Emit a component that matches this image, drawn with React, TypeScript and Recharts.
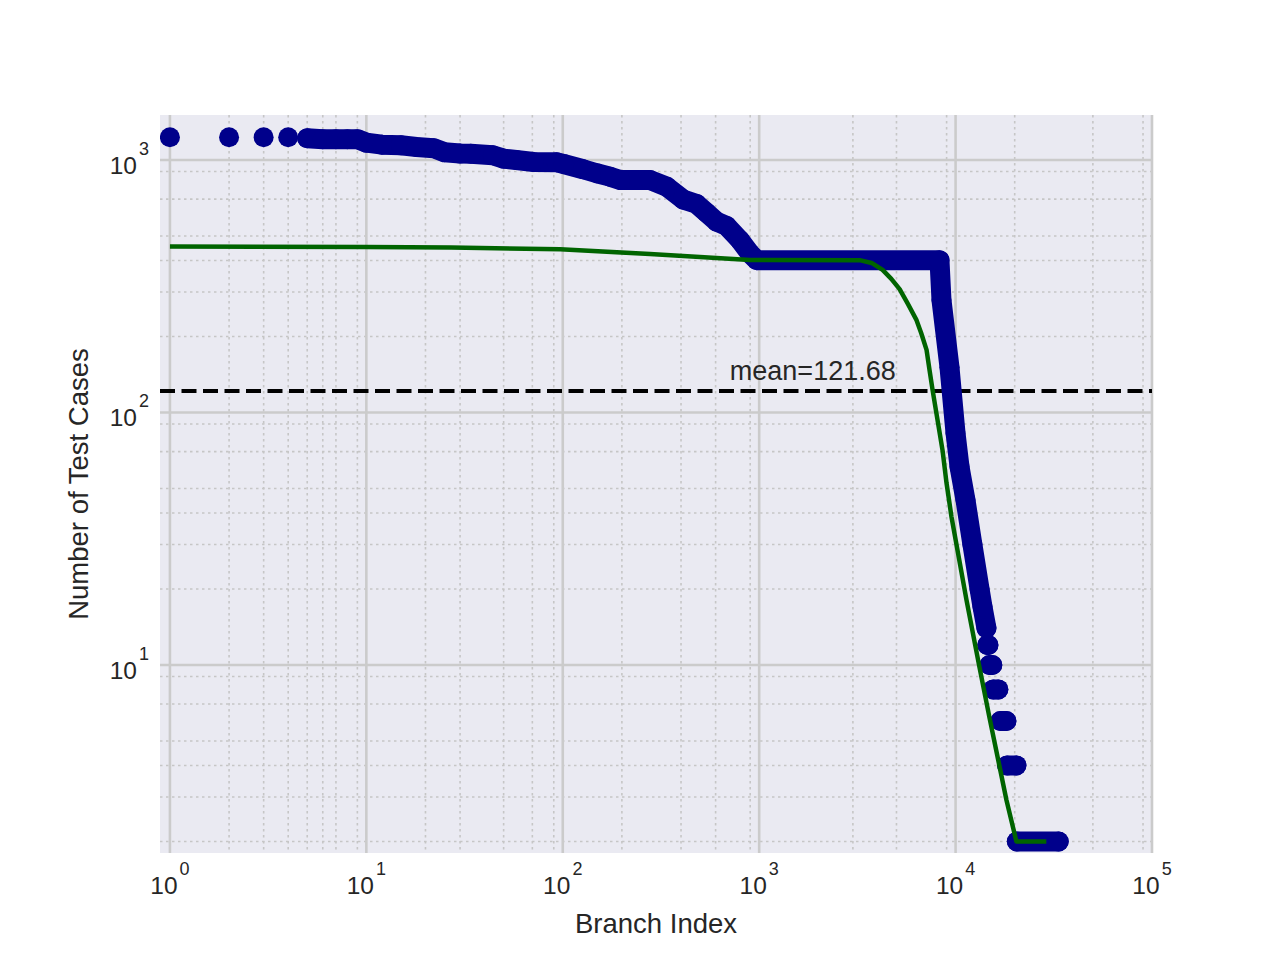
import React from 'react';
import {
  ComposedChart,
  Scatter,
  XAxis,
  YAxis,
  CartesianGrid,
  ReferenceLine,
  ReferenceDot,
} from 'recharts';

// isolated leading branches (ranks 1-4)
const topRanks = [1, 2, 3, 4];
const topCounts = [1230, 1230, 1230, 1230];

// dense part of the ranked counts
const bandRanks = [
  5, 6, 7, 8, 9, 10, 12, 15, 18, 22, 25, 30, 34, 44, 50, 58, 71, 93, 101, 127,
  149, 174, 196, 278, 338, 410, 480, 540, 607, 682, 797, 896, 973, 8280, 8475,
  9310, 9990, 10470, 11230, 12180, 13240, 13710, 14360,
];
const bandCounts = [
  1219, 1209, 1209, 1209, 1209, 1171, 1150, 1143, 1126, 1113, 1073, 1060, 1058,
  1044, 1012, 1000, 982, 979, 964, 919, 886, 859, 833, 833, 784, 698, 670, 618,
  570, 548, 482, 427, 401, 401, 279, 151, 83, 61, 45, 30, 20, 17, 14,
];

// tail: runs of equal counts
const stepCounts = [12, 10, 8, 6, 4, 2];
const stepFirstRank = [14500, 14870, 15560, 16910, 18300, 20500];
const stepLastRank = [14700, 15380, 16510, 18150, 20400, 33500];

// fitted curve
const fitRanks = [
  1, 10, 27, 97, 278, 499, 896, 3246, 3736, 4250, 4707, 5188, 5716, 6327, 6686,
  7115, 7370, 7632, 8578, 8990, 9530, 11360, 13230, 14870, 18150, 20400, 28970,
];
const fitCounts = [
  454, 452, 450, 443, 424, 413, 402, 401, 391, 367, 338, 308, 269, 232, 206,
  177, 147, 123, 71, 52.6, 38.6, 18.1, 9.8, 6.2, 2.92, 2, 2,
];

const meanValue = 121.68;
const meanLabelRank = 709;

const xTicks = [1, 10, 100, 1000, 10000, 100000];
const yTicks = [10, 100, 1000];
const xDecades = [1, 10, 100, 1000, 10000];
const yDecades = [1, 10, 100, 1000];
const minorSteps = [2, 3, 4, 5, 6, 7, 8, 9];

const X_DOMAIN = [0.89, 100000];
const Y_DOMAIN = [1.8, 1507];

const xMinor = xDecades.flatMap((d) => minorSteps.map((m) => d * m)).filter((v) => v <= X_DOMAIN[1]);
const yMinor = yDecades.flatMap((d) => minorSteps.map((m) => d * m)).filter((v) => v >= Y_DOMAIN[0] && v <= Y_DOMAIN[1]);

const toPoints = (xs: number[], ys: number[]) => xs.map((x, i) => ({ x, y: ys[i] }));

const FONT = "'Liberation Sans', Arial, Helvetica, sans-serif";
const TEXT = '#262626';
const BLUE = '#00008B';
const GREEN = '#006400';

const dot = (props: any) => <circle cx={props.cx} cy={props.cy} r={10} fill={BLUE} />;
const noDot = () => <g />;
const bandLine = { stroke: BLUE, strokeWidth: 20, strokeLinecap: 'round', strokeLinejoin: 'round' };

const exponent = (v: number) => String(Math.round(Math.log10(v)));

const XTick = ({ x, y, payload }: any) => (
  <text x={x} y={y + 41} textAnchor="middle" fill={TEXT} fontFamily={FONT} fontSize={24.5}>
    <tspan>10</tspan>
    <tspan dx={2} dy={-19} fontSize={18}>{exponent(payload.value)}</tspan>
  </text>
);

const YTick = ({ x, y, payload }: any) => (
  <text x={x - 11} y={y + 14} textAnchor="end" fill={TEXT} fontFamily={FONT} fontSize={24.5}>
    <tspan>10</tspan>
    <tspan dx={2} dy={-19} fontSize={18}>{exponent(payload.value)}</tspan>
  </text>
);

const xTitle = (props: any) => {
  const vb = props.viewBox;
  return (
    <text x={vb.x + vb.width / 2} y={vb.y + 80} textAnchor="middle" fill={TEXT} fontFamily={FONT} fontSize={27.5}>
      Branch Index
    </text>
  );
};

const yTitle = (props: any) => {
  const vb = props.viewBox;
  const cy = vb.y + vb.height / 2;
  return (
    <text x={88} y={cy} transform={`rotate(-90, 88, ${cy})`} textAnchor="middle" fill={TEXT} fontFamily={FONT} fontSize={27.5}>
      Number of Test Cases
    </text>
  );
};

const meanText = (props: any) => (
  <text x={props.cx} y={props.cy - 11} fill={TEXT} fontFamily={FONT} fontSize={27}>
    mean={meanValue}
  </text>
);

export default function App() {
  return (
    <div style={{ position: 'absolute', left: 0, top: 0, background: '#fff' }}>
      <ComposedChart width={1280} height={960} margin={{ top: 115, right: 128, bottom: 0, left: 0 }}>
        <CartesianGrid
          fill="#EAEAF2"
          stroke="#c6c6c6"
          strokeWidth={1.6}
          strokeDasharray="2.5 3.5"
          verticalValues={xMinor}
          horizontalValues={yMinor}
        />
        <CartesianGrid
          stroke="#cbcbcb"
          strokeWidth={2.6}
          verticalValues={xTicks}
          horizontalValues={yTicks}
        />
        <XAxis
          type="number"
          dataKey="x"
          scale="log"
          domain={X_DOMAIN}
          allowDataOverflow
          ticks={xTicks}
          tick={XTick}
          tickSize={0}
          tickMargin={0}
          axisLine={false}
          tickLine={false}
          height={107}
          label={xTitle}
        />
        <YAxis
          type="number"
          dataKey="y"
          scale="log"
          domain={Y_DOMAIN}
          allowDataOverflow
          ticks={yTicks}
          tick={YTick}
          tickSize={0}
          tickMargin={0}
          axisLine={false}
          tickLine={false}
          width={160}
          label={yTitle}
        />
        <Scatter data={toPoints(topRanks, topCounts)} fill={BLUE} shape={dot} isAnimationActive={false} />
        <Scatter
          data={toPoints(bandRanks, bandCounts)}
          fill={BLUE}
          shape={dot}
          line={bandLine}
          isAnimationActive={false}
        />
        {stepCounts.map((c, i) => (
          <Scatter
            key={c}
            data={[{ x: stepFirstRank[i], y: c }, { x: stepLastRank[i], y: c }]}
            fill={BLUE}
            shape={dot}
            line={bandLine}
            isAnimationActive={false}
          />
        ))}
        <Scatter
          data={toPoints(fitRanks, fitCounts)}
          fill={GREEN}
          shape={noDot}
          line={{ stroke: GREEN, strokeWidth: 4.5, strokeLinejoin: 'round' }}
          isAnimationActive={false}
        />
        <ReferenceLine y={meanValue} stroke="#000" strokeWidth={4} strokeDasharray="15 6.5" />
        <ReferenceDot x={meanLabelRank} y={meanValue} r={0} shape={meanText} />
      </ComposedChart>
    </div>
  );
}
